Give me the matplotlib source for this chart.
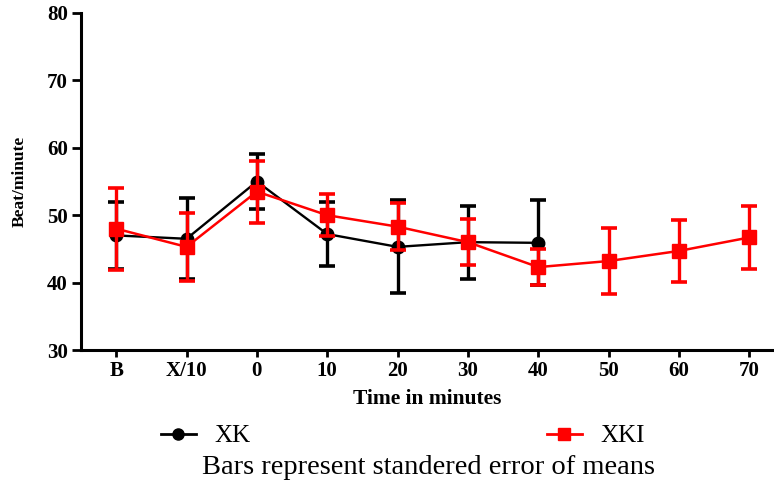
import matplotlib
matplotlib.use("Agg")
import matplotlib.pyplot as plt
from matplotlib.lines import Line2D

plt.rcParams['font.family'] = ['Liberation Serif', 'DejaVu Serif']

# data
time_labels = ["B", "X/10", "0", "10", "20", "30", "40", "50", "60", "70"]
xk_mean = [47.0, 46.5, 55.0, 47.2, 45.3, 46.0, 45.9]
xk_err = [5.0, 6.0, 4.1, 4.7, 6.9, 5.4, 6.3]
xki_mean = [48.0, 45.3, 53.5, 50.0, 48.3, 46.0, 42.3, 43.2, 44.7, 46.7]
xki_err = [6.1, 5.1, 4.6, 3.1, 3.5, 3.4, 2.7, 4.85, 4.55, 4.7]

fig = plt.figure(figsize=(7.74, 4.84), dpi=100)
ax = fig.add_axes([81/774, 1-350/484, 1-81/774, (350-13)/484])

x_xk = list(range(len(xk_mean)))
x_xki = list(range(len(xki_mean)))

ax.errorbar(x_xk, xk_mean, yerr=xk_err, color="black", marker="o",
            markersize=9, linewidth=1.7, elinewidth=2.4, capsize=5.5,
            capthick=2.6, zorder=3)
ax.errorbar(x_xki, xki_mean, yerr=xki_err, color="#ff0000", marker="s",
            markersize=9.5, linewidth=1.8, elinewidth=2.4, capsize=5.5,
            capthick=2.6, zorder=4)

ax.set_xlim(-0.5, 9.35)
ax.set_ylim(30, 80)
ax.set_yticks([30, 40, 50, 60, 70, 80])
ax.set_xticks(range(len(time_labels)))
ax.set_xticklabels(time_labels)

for s in ["top", "right"]:
    ax.spines[s].set_visible(False)
for s in ["left", "bottom"]:
    ax.spines[s].set_linewidth(2.2)

ax.tick_params(axis="both", width=2, labelsize=15)
ax.tick_params(axis="y", length=6.5, pad=3)
ax.tick_params(axis="x", length=5, pad=3)
for lab in ax.get_xticklabels() + ax.get_yticklabels():
    lab.set_fontweight("bold")

ax.set_xlabel("Time in minutes", fontsize=15.5, fontweight="bold", labelpad=6)
ax.set_ylabel("Beat/minute", fontsize=12.5, fontweight="bold")
ax.yaxis.set_label_coords(-0.077, 0.5)

h_xk = Line2D([], [], color="black", marker="o", markersize=8, linewidth=2)
h_xki = Line2D([], [], color="#ff0000", marker="s", markersize=8, linewidth=2)
for h, lab, xpos in [(h_xk, "XK", 160.7/774), (h_xki, "XKI", 546.7/774)]:
    fig.legend([h], [lab], loc="center left", bbox_to_anchor=(xpos, 1-436/484),
               frameon=False, fontsize=18, handlelength=1.4, handletextpad=0.75,
               borderpad=0, borderaxespad=0)

fig.text(428.5/774, 1-467/484, "Bars represent standered error of means",
         fontsize=20.5, ha="center", va="center")

fig.savefig("out.png", dpi=100)
